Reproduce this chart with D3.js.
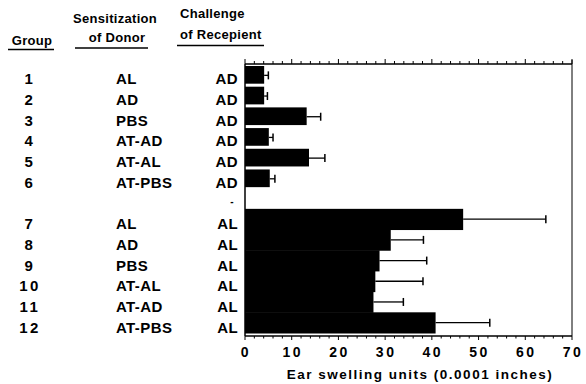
<!DOCTYPE html>
<html>
<head>
<meta charset="utf-8">
<script src="https://cdn.jsdelivr.net/npm/d3@7"></script>
<style>
  body { margin: 0; background: #fff; }
  svg { font-family: "Liberation Sans", Arial, sans-serif; font-weight: bold; }
</style>
</head>
<body>
<div id="vis"></div>
<script>
// rows of the table (blank row "-" between the two blocks)
var groups = ["1", "2", "3", "4", "5", "6", "-", "7", "8", "9", "10", "11", "12"];
var donors = ["AL", "AD", "PBS", "AT-AD", "AT-AL", "AT-PBS", "", "AL", "AD", "PBS", "AT-AL", "AT-AD", "AT-PBS"];
var challenges = ["AD", "AD", "AD", "AD", "AD", "AD", "-", "AL", "AL", "AL", "AL", "AL", "AL"];
var means = [4.1, 4.1, 13.2, 5.1, 13.7, 5.3, null, 46.7, 31.2, 28.8, 27.9, 27.5, 40.8];
var errTops = [5.0, 4.8, 16.2, 6.0, 17.1, 6.4, null, 64.4, 38.2, 38.9, 38.1, 33.9, 52.4];
var xTicks = [0, 10, 20, 30, 40, 50, 60, 70];

var width = 586, height = 384;
var plotLeft = 245, plotRight = 572, plotTop = 64, plotBottom = 336;

var svg = d3.select("#vis").append("svg").attr("width", width).attr("height", height);

var x = d3.scaleLinear().domain([0, 70]).range([plotLeft, plotRight]);
var y = d3.scaleBand().domain(d3.range(groups.length)).range([plotTop, 333]).paddingInner(0);

//headers
function header(txt, xx, yy, anchor) {
    svg.append("text").attr("x", xx).attr("y", yy).attr("text-anchor", anchor || "middle")
        .attr("font-size", 13).attr("letter-spacing", 0.3).text(txt);
}
header("Group", 32, 45);
header("Sensitization", 115, 23);
header("of Donor", 117, 42);
header("Challenge", 180, 18, "start");
header("of Recepient", 180, 39, "start");
svg.append("line").attr("x1", 8).attr("x2", 54).attr("y1", 49.5).attr("y2", 49.5).attr("stroke", "#000").attr("stroke-width", 1.3);
svg.append("line").attr("x1", 75).attr("x2", 148).attr("y1", 48).attr("y2", 48).attr("stroke", "#000").attr("stroke-width", 1.3);
svg.append("line").attr("x1", 177).attr("x2", 264).attr("y1", 45.5).attr("y2", 45.5).attr("stroke", "#000").attr("stroke-width", 1.3);

//row labels
var rows = svg.append("g").attr("font-size", 15);
groups.forEach(function (g, i) {
    var cy = y(i) + y.bandwidth() / 2 + 10;
    if (g == "-") {
        rows.append("text").attr("x", 232).attr("y", cy - 4).attr("text-anchor", "middle").attr("font-size", 10).text("-");
        return;
    }
    rows.append("text").attr("x", 30).attr("y", cy).attr("text-anchor", "middle").attr("letter-spacing", 2.5).text(g);
    rows.append("text").attr("x", 116).attr("y", cy).attr("letter-spacing", 0.4).text(donors[i]);
    rows.append("text").attr("x", 238).attr("y", cy).attr("text-anchor", "end").attr("letter-spacing", 0.4).text(challenges[i]);
});

//bars
var data = means.map(function (m, i) { return { i: i, m: m, e: errTops[i] }; }).filter(function (d) { return d.m != null; });

svg.selectAll("rect.bar").data(data).enter().append("rect")
    .attr("class", "bar")
    .attr("x", x(0))
    .attr("y", function (d) { return d.i < 6 ? y(d.i) + 2 : y(d.i); })
    .attr("width", function (d) { return x(d.m) - x(0); })
    .attr("height", function (d) { return d.i < 6 ? y.bandwidth() - 3 : y.bandwidth() + 0.5; })
    .attr("fill", "#000");

//error bars
var eb = svg.selectAll("g.err").data(data).enter().append("g").attr("class", "err")
    .attr("transform", function (d) { return "translate(0," + (y(d.i) + y.bandwidth() / 2 + (d.i < 6 ? 1 : 0)) + ")"; });
eb.append("line").attr("x1", function (d) { return x(d.m); }).attr("x2", function (d) { return x(d.e); })
    .attr("stroke", "#000").attr("stroke-width", 1.3);
eb.append("line").attr("x1", function (d) { return x(d.e); }).attr("x2", function (d) { return x(d.e); })
    .attr("y1", -4).attr("y2", 4).attr("stroke", "#000").attr("stroke-width", 1.5);

//frame
svg.append("line").attr("x1", plotLeft).attr("x2", plotLeft).attr("y1", plotTop).attr("y2", plotBottom).attr("stroke", "#000").attr("stroke-width", 1.5);
svg.append("line").attr("x1", plotRight).attr("x2", plotRight).attr("y1", plotTop - 4).attr("y2", plotBottom).attr("stroke", "#000").attr("stroke-width", 1);

//axes
var minor = d3.range(0, 71, 2);
var topAxis = svg.append("g").attr("transform", "translate(0," + plotTop + ")");
topAxis.append("line").attr("x1", plotLeft).attr("x2", plotRight).attr("stroke", "#000").attr("stroke-width", 1.5);
topAxis.selectAll("line.t").data(minor).enter().append("line")
    .attr("x1", function (d) { return x(d); }).attr("x2", function (d) { return x(d); })
    .attr("y1", function (d) { return d % 10 == 0 ? -5 : -3; }).attr("y2", 0)
    .attr("stroke", "#000").attr("stroke-width", 1);

var botAxis = svg.append("g").attr("transform", "translate(0," + plotBottom + ")");
botAxis.append("line").attr("x1", plotLeft).attr("x2", plotRight).attr("stroke", "#000").attr("stroke-width", 1.5);
botAxis.selectAll("line.t").data(minor).enter().append("line")
    .attr("x1", function (d) { return x(d); }).attr("x2", function (d) { return x(d); })
    .attr("y1", 0).attr("y2", function (d) { return d % 10 == 0 ? 4 : 2.5; })
    .attr("stroke", "#000").attr("stroke-width", 1);
botAxis.selectAll("text").data(xTicks).enter().append("text")
    .attr("x", function (d) { return x(d) + 1; }).attr("y", 21)
    .attr("text-anchor", "middle").attr("font-size", 14).attr("letter-spacing", 2.5)
    .text(function (d) { return d; });

svg.append("text").attr("x", 420).attr("y", 379).attr("text-anchor", "middle")
    .attr("font-size", 13.5).attr("letter-spacing", 1.5).text("Ear swelling units (0.0001 inches)");
</script>
</body>
</html>
